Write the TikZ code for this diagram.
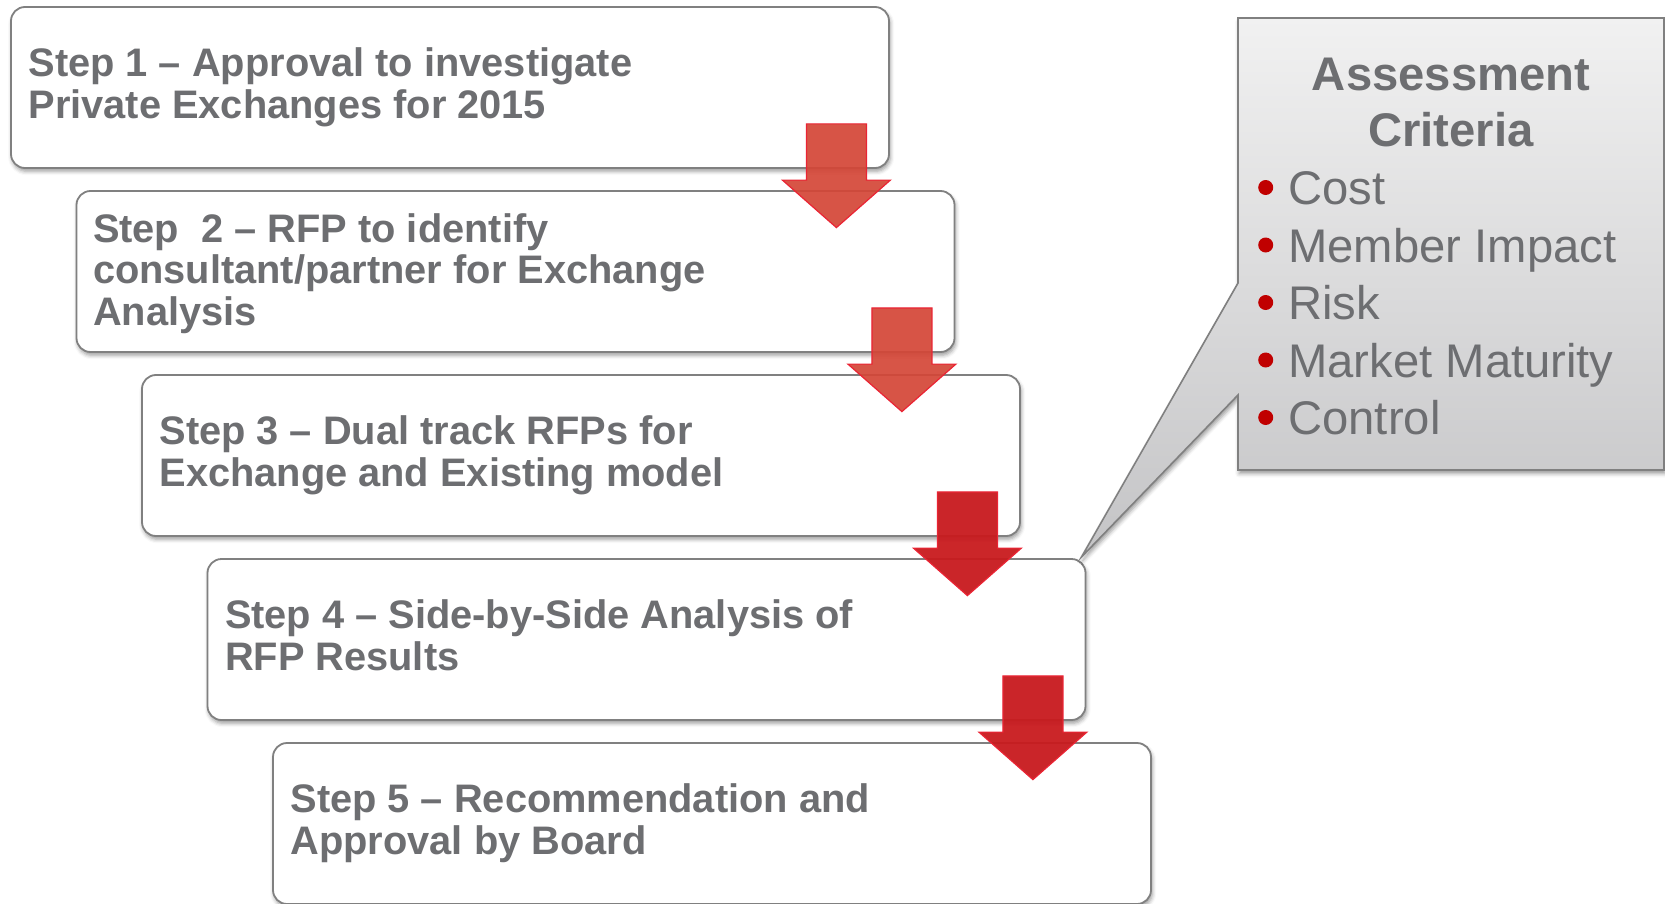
\documentclass[tikz,border=0pt]{standalone}
\usepackage{fontspec}
\setmainfont{Liberation Sans}
\usetikzlibrary{calc,shadows.blur}

\definecolor{txtgray}{RGB}{109,110,113}
\definecolor{edgegray}{RGB}{128,128,128}
\definecolor{arrowA}{RGB}{212,70,55}
\definecolor{arrowB}{RGB}{200,26,30}
\definecolor{arrowedge}{RGB}{234,36,52}
\definecolor{dotred}{RGB}{192,0,0}
\definecolor{calltop}{RGB}{241,241,241}
\definecolor{callbot}{RGB}{196,196,198}

\begin{document}
\begin{tikzpicture}[x=0.5pt,y=-0.5pt,
  stepbox/.style={draw=edgegray, line width=0.9pt, fill=white,
    rounded corners=7pt, minimum width=439pt, minimum height=80.5pt,
    inner sep=0pt,
    blur shadow={shadow xshift=0.6pt, shadow yshift=-1.6pt,
      shadow blur radius=2pt, shadow opacity=40}},
  % anchored at the baseline of the last line
  steptext/.style={anchor=base west, inner sep=0pt, align=left,
    text=txtgray, font=\fontsize{19.9}{20.6}\selectfont\bfseries},
  flowarrowA/.style={fill=arrowA, fill opacity=0.92, draw=arrowedge,
    line width=0.6pt, line join=miter},
  flowarrowB/.style={fill=arrowB, fill opacity=0.95, draw=arrowedge,
    line width=0.6pt, line join=miter},
  calloutshape/.style={draw=edgegray, line width=0.8pt,
    top color=calltop, bottom color=callbot, line join=miter,
    blur shadow={shadow xshift=0.6pt, shadow yshift=-1.8pt,
      shadow blur radius=2pt, shadow opacity=40}},
  crittitle/.style={anchor=base, inner sep=0pt, align=center, text=txtgray,
    font=\fontsize{23.6}{28.35}\selectfont\bfseries},
  critem/.style={anchor=base west, inner sep=0pt, text=txtgray,
    font=\fontsize{23.6}{28}\selectfont},
]
\useasboundingbox (0,0) rectangle (1665,904);

% the five step boxes, stepping down and to the right
\foreach \k in {1,...,5}{
  \node[stepbox] (b\k) at ({450+65.5*(\k-1)},{87.5+184*(\k-1)}) {};
}

% step texts
\node[steptext] (t1) at ($(b1.north west)+(18,112)$)
  {Step 1 -- Approval to investigate\\Private Exchanges for 2015};
\node[steptext] (t2) at ($(b2.north west)+(17,135)$)
  {Step\ \ 2 -- RFP to identify\\consultant/partner for Exchange\\Analysis};
\node[steptext] (t3) at ($(b3.north west)+(18,112)$)
  {Step 3 -- Dual track RFPs for\\Exchange and Existing model};
\node[steptext] (t4) at ($(b4.north west)+(18,112)$)
  {Step 4 -- Side-by-Side Analysis of\\RFP Results};
\node[steptext] (t5) at ($(b5.north west)+(18,112)$)
  {Step 5 -- Recommendation and\\Approval by Board};

% block arrows from each step to the next
\foreach \ka/\kb/\sty in {1/2/flowarrowA,2/3/flowarrowA,3/4/flowarrowB,4/5/flowarrowB}{
  \draw[\sty] let \p1=($(b\ka.south east)+(-53.5,-45)$),
                  \p2=($(b\kb.north)+(0,-10)$),
                  \p3=($(b\kb.north)+(0,37.5)$) in
    (\x1-15pt,\y1) -- (\x1+15pt,\y1) -- (\x1+15pt,\y2) -- (\x1+27pt,\y2)
    -- (\x1,\y3) -- (\x1-27pt,\y2) -- (\x1-15pt,\y2) -- cycle;
}

% callout with assessment criteria, pointing at step 4
\coordinate (calltip) at ($(b4.north east)+(-5,-1)$);
\draw[calloutshape] (1238,18) -- (1664,18) -- (1664,470) -- (1238,470)
  -- (1238,395) -- (calltip) -- (1238,283) -- cycle;

\node[crittitle] (crit) at (1451,147) {Assessment\\Criteria};

\foreach \lbl/\yy/\nm in {Cost/204.5/c1, Member Impact/262/c2, Risk/319.5/c3,
                          Market Maturity/377/c4, Control/434.5/c5}{
  \node[critem] (\nm) at (1288,\yy) {\lbl};
  \fill[dotred] ($(\nm.base west)+(-22.3,-17)$) circle (7.5);
}
\end{tikzpicture}
\end{document}
